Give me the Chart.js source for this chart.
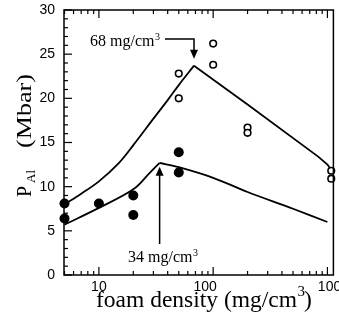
<!DOCTYPE html>
<html>
<head>
<meta charset="utf-8">
<script src="https://cdn.jsdelivr.net/npm/chart.js@4.4.1/dist/chart.umd.min.js"></script>
<style>
  html, body { margin: 0; padding: 0; background: #fff; }
</style>
</head>
<body>
<canvas id="chart" width="339" height="322"></canvas>
<script>
// measured points (foam density in mg/cm3, pressure in Mbar)
const filledDensity = [5, 5, 10, 20, 20, 50, 50];
const filledPressure = [8.1, 6.4, 8.1, 9.0, 6.8, 13.9, 11.6];
const openDensity = [50, 50, 100, 100, 200, 200, 1080, 1080];
const openPressure = [22.8, 20.0, 26.2, 23.8, 16.7, 16.1, 11.8, 10.9];

// simulation curves
const upperRiseDensity = [5, 7, 10, 15, 20, 30, 40, 50, 68];
const upperRisePressure = [8.0, 9.2, 10.6, 12.7, 14.7, 17.7, 19.8, 21.5, 23.7];
const upperFallDensity = [68, 200, 830, 1000, 1080];
const upperFallPressure = [23.7, 19.3, 13.4, 12.5, 11.9];
const lowerRiseDensity = [5, 10, 20, 28, 34];
const lowerRisePressure = [5.7, 7.6, 9.7, 11.6, 12.7];
const lowerFallDensity = [34, 50, 100, 200, 500, 1000];
const lowerFallPressure = [12.7, 12.2, 11.0, 9.4, 7.5, 6.0];

// axes
const xTickValues = [10, 100, 1000];
const xTickLabels = ['10', '100', '1000'];
const yTickValues = [0, 5, 10, 15, 20, 25, 30];
const yTickLabels = ['0', '5', '10', '15', '20', '25', '30'];

function pts(xs, ys) {
  return xs.map((x, i) => ({ x: x, y: ys[i] }));
}

const serif = '"Liberation Serif", "Times New Roman", serif';
const sans = '"Liberation Sans", Arial, sans-serif';

const decorations = {
  id: 'decorations',
  afterDraw(chart) {
    const ctx = chart.ctx;
    const xs = chart.scales.x;
    const ys = chart.scales.y;
    const L = xs.left, R = xs.right, T = ys.top, B = ys.bottom;
    const line = (x1, y1, x2, y2) => {
      ctx.beginPath(); ctx.moveTo(x1, y1); ctx.lineTo(x2, y2); ctx.stroke();
    };
    ctx.save();
    ctx.setLineDash([]);
    ctx.globalAlpha = 1;
    ctx.strokeStyle = '#000';
    ctx.fillStyle = '#000';

    // tick labels
    ctx.font = '14px ' + sans;
    ctx.textAlign = 'right';
    ctx.textBaseline = 'middle';
    yTickValues.forEach((v, i) => {
      ctx.fillText(yTickLabels[i], L - 9, ys.getPixelForValue(v));
    });
    ctx.textAlign = 'center';
    ctx.textBaseline = 'alphabetic';
    const shift = [0, -8, 6];
    xTickValues.forEach((v, i) => {
      ctx.fillText(xTickLabels[i], xs.getPixelForValue(v) + shift[i], 291);
    });

    // x title
    ctx.textAlign = 'left';
    ctx.font = '24px ' + serif;
    const main = 'foam density (mg/cm';
    const w = ctx.measureText(main).width;
    const sx = (297 - 96) / w;
    ctx.save();
    ctx.translate(96, 307);
    ctx.scale(sx, 1);
    ctx.fillText(main, 0, 0);
    ctx.restore();
    ctx.font = '15px ' + serif;
    ctx.fillText('3', 297.5, 296);
    ctx.font = '24px ' + serif;
    ctx.save();
    ctx.translate(304, 307);
    ctx.scale(sx, 1);
    ctx.fillText(')', 0, 0);
    ctx.restore();

    // y title, rotated
    ctx.save();
    ctx.translate(31, 197);
    ctx.rotate(-Math.PI / 2);
    ctx.font = '20px ' + serif;
    ctx.fillText('P', 0, 0);
    ctx.font = '13px ' + serif;
    ctx.fillText('Al', 14, 4);
    ctx.font = '20px ' + serif;
    const pw = ctx.measureText('(Mbar)').width;
    ctx.translate(49, 0);
    ctx.scale(74 / pw, 1);
    ctx.fillText('(Mbar)', 0, 0);
    ctx.restore();

    // annotation: 68 mg/cm3
    const px68 = xs.getPixelForValue(68);
    const py68 = ys.getPixelForValue(23.7);
    ctx.font = '16px ' + serif;
    ctx.fillText('68 mg/cm', 90, 46);
    ctx.font = '10px ' + serif;
    ctx.fillText('3', 155, 40);
    ctx.lineWidth = 1.5;
    ctx.beginPath();
    ctx.moveTo(165, 39);
    ctx.lineTo(px68, 39);
    ctx.lineTo(px68, py68 - 14);
    ctx.stroke();
    ctx.beginPath();
    ctx.moveTo(px68 - 4, py68 - 16);
    ctx.lineTo(px68 + 4, py68 - 16);
    ctx.lineTo(px68, py68 - 7);
    ctx.closePath();
    ctx.fill();

    // annotation: 34 mg/cm3
    const px34 = xs.getPixelForValue(34);
    const py34 = ys.getPixelForValue(12.7);
    ctx.font = '16px ' + serif;
    ctx.fillText('34 mg/cm', 128, 262);
    ctx.font = '10px ' + serif;
    ctx.fillText('3', 193, 256);
    line(px34, 244, px34, py34 + 10);
    ctx.beginPath();
    ctx.moveTo(px34 - 4, py34 + 13);
    ctx.lineTo(px34 + 4, py34 + 13);
    ctx.lineTo(px34, py34 + 4);
    ctx.closePath();
    ctx.fill();

    // frame
    ctx.lineWidth = 1.5;
    ctx.beginPath();
    ctx.moveTo(L, T); ctx.lineTo(R, T); ctx.lineTo(R, B); ctx.lineTo(L, B);
    ctx.closePath();
    ctx.stroke();

    // y ticks (inward, left side only)
    ctx.lineWidth = 1.2;
    for (let v = 0; v <= 30; v++) {
      const y = ys.getPixelForValue(v);
      line(L, y, L + (v % 5 === 0 ? 8 : 4), y);
    }
    // x ticks, bottom and top
    [1, 10, 100, 1000].forEach(d => {
      for (let m = 1; m <= 9; m++) {
        const v = d * m;
        if (v <= xs.min * 1.01 || v >= xs.max) continue;
        const x = xs.getPixelForValue(v);
        const len = m === 1 ? 8 : 4;
        line(x, B, x, B - len);
        line(x, T, x, T + len);
      }
    });

    ctx.restore();
  }
};

const curve = (data) => ({
  data: data,
  showLine: true,
  borderColor: '#000',
  borderWidth: 1.8,
  pointRadius: 0,
  fill: false,
  tension: 0.35,
  clip: false,
  order: 3
});

new Chart(document.getElementById('chart').getContext('2d'), {
  type: 'scatter',
  data: {
    datasets: [
      {
        data: pts(filledDensity, filledPressure),
        backgroundColor: '#000',
        borderColor: '#000',
        pointRadius: 5,
        borderWidth: 0,
        clip: false,
        order: 1
      },
      {
        data: pts(openDensity, openPressure),
        backgroundColor: '#fff',
        borderColor: '#000',
        pointRadius: 3.3,
        borderWidth: 1.6,
        clip: false,
        order: 1
      },
      curve(pts(upperRiseDensity, upperRisePressure)),
      Object.assign(curve(pts(upperFallDensity, upperFallPressure)), { tension: 0 }),
      curve(pts(lowerRiseDensity, lowerRisePressure)),
      curve(pts(lowerFallDensity, lowerFallPressure))
    ]
  },
  options: {
    responsive: false,
    animation: false,
    layout: { padding: { left: 64, right: 5, top: 10, bottom: 47 } },
    plugins: { legend: { display: false }, tooltip: { enabled: false } },
    scales: {
      x: {
        type: 'logarithmic',
        display: false,
        min: 4.95,
        max: 1128
      },
      y: {
        display: false,
        min: 0,
        max: 30
      }
    }
  },
  plugins: [decorations]
});
</script>
</body>
</html>
